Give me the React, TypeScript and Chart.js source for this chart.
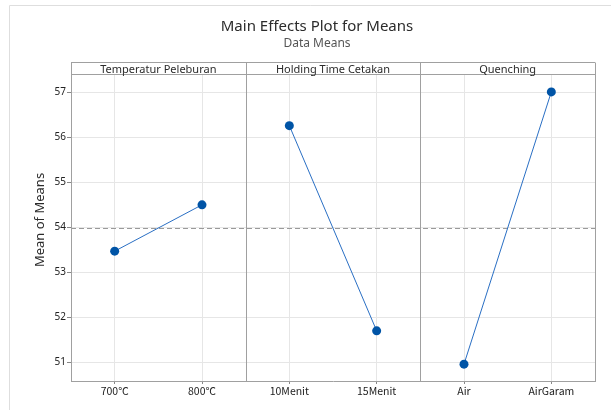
import React, { useEffect, useRef } from "react";
import { Chart, registerables } from "chart.js";

Chart.register(...registerables);

const factors = ["Temperatur Peleburan", "Holding Time Cetakan", "Quenching"];
const levelLabels = [
  ["700℃", "800℃"],
  ["10Menit", "15Menit"],
  ["Air", "AirGaram"],
];
const temperaturMeans = [53.47, 54.5];
const holdingMeans = [56.26, 51.7];
const quenchingMeans = [50.96, 57.01];
const yTicks = [51, 52, 53, 54, 55, 56, 57];
const GRAND_MEAN = 53.98;

const seriesValues = [temperaturMeans, holdingMeans, quenchingMeans];
const allLabels = levelLabels.flat();

const FONT = "'Noto Sans', 'Open Sans', sans-serif";
const TICK_FONT = "'Noto Sans CJK JP', 'Noto Sans', sans-serif";

export default function App() {
  const ref = useRef<HTMLCanvasElement | null>(null);

  useEffect(() => {
    document.body.style.margin = "0";
    const canvas = ref.current;
    if (!canvas) return;

    let offset = 0;
    const datasets = seriesValues.map((vals, i) => {
      const start = offset;
      offset += vals.length;
      return {
        label: factors[i],
        data: vals.map((v, j) => ({ x: start + j, y: v })),
        borderColor: "#2a6fc4",
        borderWidth: 1,
        backgroundColor: "#0054a6",
        pointBackgroundColor: "#0054a6",
        pointBorderColor: "#0054a6",
        pointRadius: 4.5,
        pointBorderWidth: 0,
        tension: 0,
      };
    });

    const decor = {
      id: "decor",
      beforeDraw(chart: any) {
        const ctx = chart.ctx;
        ctx.save();
        ctx.fillStyle = "#ffffff";
        ctx.fillRect(0, 0, chart.width, chart.height);
        ctx.strokeStyle = "#dedede";
        ctx.lineWidth = 1;
        ctx.beginPath();
        ctx.moveTo(9.5, chart.height);
        ctx.lineTo(9.5, 5.5);
        ctx.lineTo(chart.width, 5.5);
        ctx.stroke();
        ctx.fillStyle = "#2b2b2b";
        ctx.textAlign = "center";
        ctx.textBaseline = "middle";
        ctx.font = `15px ${FONT}`;
        ctx.fillText("Main Effects Plot for Means", 317, 27);
        ctx.fillStyle = "#555555";
        ctx.font = `12px ${FONT}`;
        ctx.fillText("Data Means", 317, 44);
        ctx.save();
        ctx.translate(40, 220);
        ctx.rotate(-Math.PI / 2);
        ctx.fillStyle = "#2b2b2b";
        ctx.font = `13px ${FONT}`;
        ctx.fillText("Mean of Means", 0, 0);
        ctx.restore();
        ctx.restore();
      },
      beforeDatasetsDraw(chart: any) {
        const ctx = chart.ctx;
        const a = chart.chartArea;
        const xs = chart.scales.x;
        const ys = chart.scales.y;
        const headerTop = 62.5;
        ctx.save();
        const ym = Math.round(ys.getPixelForValue(GRAND_MEAN)) + 0.5;
        ctx.strokeStyle = "#9a9a9a";
        ctx.setLineDash([5, 3]);
        ctx.beginPath();
        ctx.moveTo(a.left, ym);
        ctx.lineTo(a.right, ym);
        ctx.stroke();
        ctx.setLineDash([]);
        const bounds = [a.left];
        let off = 0;
        seriesValues.forEach((v) => {
          off += v.length;
          bounds.push(xs.getPixelForValue(off - 0.5));
        });
        ctx.strokeStyle = "#a0a0a0";
        ctx.lineWidth = 1;
        ctx.beginPath();
        bounds.forEach((b) => {
          const bx = Math.round(b) + 0.5;
          ctx.moveTo(bx, headerTop);
          ctx.lineTo(bx, a.bottom);
        });
        ctx.moveTo(a.left, headerTop);
        ctx.lineTo(a.right, headerTop);
        ctx.moveTo(a.left, Math.round(a.top) - 0.5);
        ctx.lineTo(a.right, Math.round(a.top) - 0.5);
        ctx.moveTo(a.left, Math.round(a.bottom) + 0.5);
        ctx.lineTo(Math.round(a.right) + 1, Math.round(a.bottom) + 0.5);
        ctx.stroke();
        ctx.fillStyle = "#2b2b2b";
        ctx.font = `11px ${FONT}`;
        ctx.textAlign = "center";
        ctx.textBaseline = "middle";
        factors.forEach((f, i) => {
          ctx.fillText(f, (bounds[i] + bounds[i + 1]) / 2, 69.5);
        });
        ctx.restore();
      },
    };

    const chart = new Chart(canvas, {
      type: "line",
      data: { datasets: datasets as any },
      options: {
        animation: false,
        responsive: false,
        maintainAspectRatio: false,
        layout: { padding: { top: 75, left: 0, right: 16, bottom: 0 } },
        plugins: {
          legend: { display: false },
          tooltip: { enabled: false },
          title: { display: false },
        },
        scales: {
          x: {
            type: "linear",
            min: -0.5,
            max: allLabels.length - 0.5,
            afterBuildTicks: (scale: any) => {
              scale.ticks = allLabels.map((_, i) => ({ value: i }));
            },
            afterFit: (scale: any) => {
              scale.height = 29;
            },
            ticks: {
              autoSkip: false,
              maxRotation: 0,
              padding: 1,
              color: "#222222",
              font: { family: TICK_FONT, size: 10.5 },
              callback: (v: any) => allLabels[v as number] ?? "",
            },
            grid: {
              color: "#e6e6e6",
              tickColor: "#888888",
              tickLength: 3,
            },
            border: { display: false },
          },
          y: {
            type: "linear",
            min: 50.585,
            max: 57.385,
            afterBuildTicks: (scale: any) => {
              scale.ticks = yTicks.map((v) => ({ value: v }));
            },
            afterFit: (scale: any) => {
              scale.width = 71;
            },
            ticks: {
              padding: 1,
              color: "#222222",
              font: { family: FONT, size: 10 },
              callback: (v: any) => String(v),
            },
            grid: {
              color: "#e6e6e6",
              tickColor: "#888888",
              tickLength: 4,
            },
            border: { display: false },
          },
        },
      },
      plugins: [decor],
    });

    return () => chart.destroy();
  }, []);

  return (
    <div style={{ width: 611, height: 410, position: "relative" }}>
      <canvas ref={ref} width={611} height={410} style={{ display: "block" }} />
    </div>
  );
}
